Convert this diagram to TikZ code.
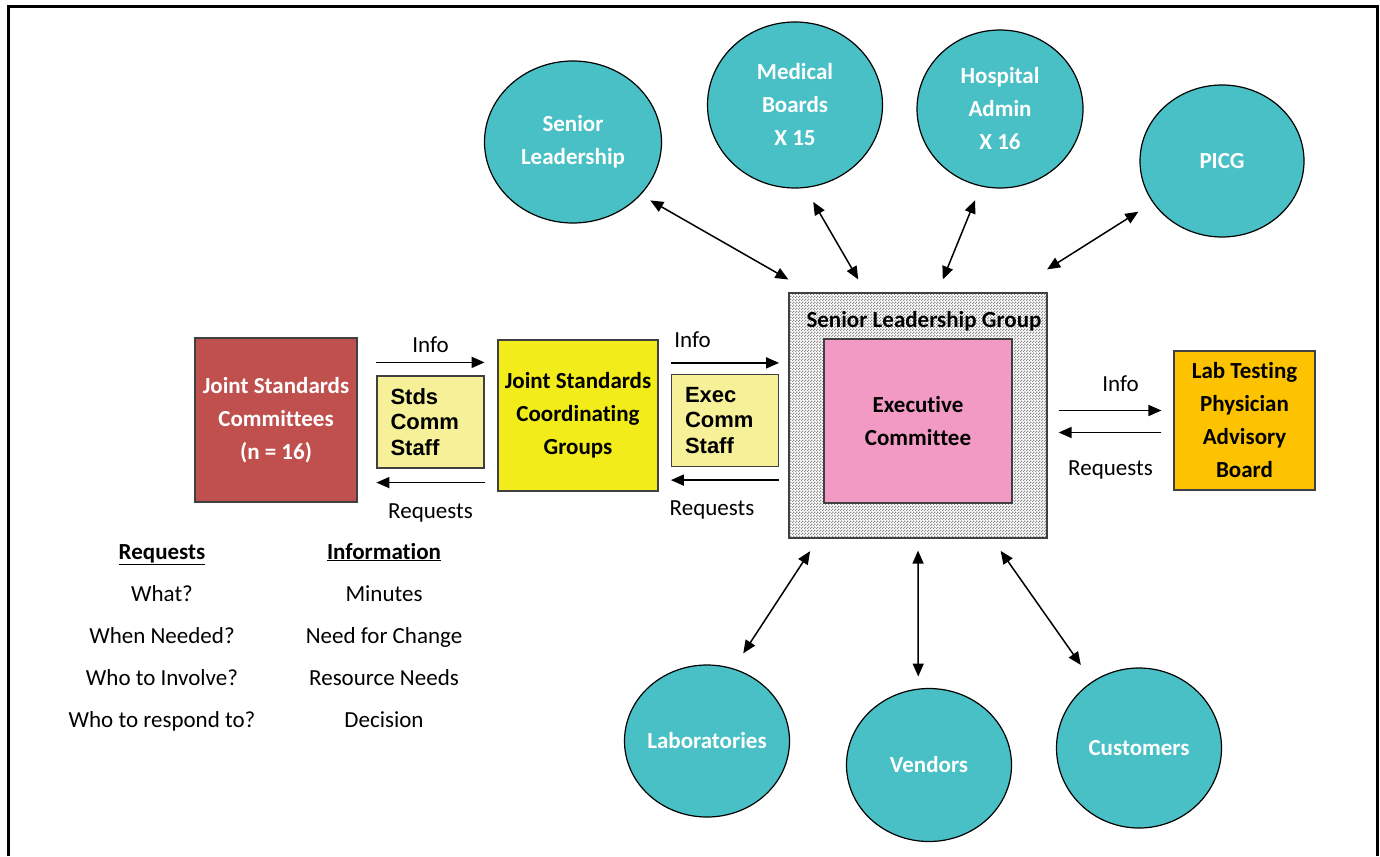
\documentclass[tikz,border=0pt]{standalone}
\usepackage{fontspec}
\setmainfont{Carlito}[Ligatures=NoCommon]
\newfontfamily\stafffont{Liberation Sans}
\usetikzlibrary{arrows.meta}
\usetikzlibrary{shapes.geometric}
\usetikzlibrary{patterns}

\definecolor{bubblecyan}{RGB}{72,192,197}
\definecolor{jscred}{RGB}{192,80,77}
\definecolor{jscgyellow}{RGB}{242,236,26}
\definecolor{staffyellow}{RGB}{246,241,152}
\definecolor{execpink}{RGB}{242,154,196}
\definecolor{boardgold}{RGB}{253,195,0}

\pgfdeclarepatternformonly{stipple}{\pgfqpoint{0pt}{0pt}}{\pgfqpoint{3pt}{3pt}}{\pgfqpoint{3pt}{3pt}}{
    \pgfpathrectangle{\pgfqpoint{0pt}{0pt}}{\pgfqpoint{1.5pt}{1.5pt}}
    \pgfpathrectangle{\pgfqpoint{1.5pt}{1.5pt}}{\pgfqpoint{1.5pt}{1.5pt}}
    \pgfusepath{fill}}

\begin{document}
\begin{tikzpicture}[x=1pt, y=-1pt,
    bubble/.style={ellipse, draw=black, line width=1.2pt, fill=bubblecyan, text=white,
        font=\bfseries\fontsize{23}{33}\selectfont, align=center, inner sep=-6pt},
    box/.style={rectangle, draw=black!75, line width=1.2pt,
        font=\bfseries\fontsize{23}{33}\selectfont, align=center, inner sep=0pt},
    staffbox/.style={box, fill=staffyellow, font=\stafffont\bfseries\fontsize{22}{25.5}\selectfont,
        align=left, text width=80pt, minimum width=107pt, minimum height=92pt},
    flow/.style={-{Triangle[length=13pt,width=11pt]}, line width=1.7pt},
    spoke/.style={{Triangle[length=13pt,width=11pt]}-{Triangle[length=13pt,width=11pt]}, line width=1.5pt},
    flowlabel/.style={font=\fontsize{23}{28}\selectfont, inner sep=0pt},
    legend/.style={anchor=base, font=\fontsize{23}{28}\selectfont, inner sep=0pt}]

    \useasboundingbox (0,0) rectangle (1380,856);
    \draw[line width=3pt] (8,856) -- (8,7) -- (1377,7) -- (1377,856);

    % outer groups
    \foreach \name/\x/\y/\w/\h/\txt in {
        seniorlead/573/142/177/162/{Senior\\Leadership},
        medboards/795/105/175/166/{Medical\\Boards\\X 15},
        hospadmin/1000/109/166/158/{Hospital\\Admin\\X 16},
        picg/1222/161/164/152/{PICG},
        labs/707/741/165/152/{Laboratories},
        vendors/929/765/165/153/{Vendors},
        customers/1139/748/165/160/{Customers}}{
        \node[bubble, minimum width=\w pt, minimum height=\h pt] (\name) at (\x,\y) {\txt};
    }

    % committee chain
    \node[box, fill=jscred, text=white, minimum width=162pt, minimum height=164pt] (jsc) at (276,420) {Joint Standards\\Committees\\(n = 16)};
    \node[staffbox] (stdsstaff) at (430.5,422) {Stds\\Comm\\Staff};
    \node[box, fill=jscgyellow, minimum width=160pt, minimum height=151pt] (jscg) at (578,415.5) {Joint Standards\\Coordinating\\Groups};
    \node[staffbox] (execstaff) at (725,420.5) {Exec\\Comm\\Staff};
    \node[box, preaction={fill=white}, pattern=stipple, pattern color=black!45, minimum width=258pt, minimum height=245pt] (slg) at (918,415.5) {};
    \node[anchor=base, font=\bfseries\fontsize{23}{28}\selectfont, inner sep=0pt] (slgtitle) at ([xshift=6pt,yshift=-35pt]slg.north) {Senior Leadership Group};
    \node[box, fill=execpink, minimum width=188pt, minimum height=164pt] (exec) at (918,421) {Executive\\Committee};
    \node[box, fill=boardgold, minimum width=141pt, minimum height=139pt] (ltpab) at (1244.5,420.5) {Lab Testing\\Physician\\Advisory\\Board};

    % info / requests
    \draw[flow] ([yshift=13pt]stdsstaff.north west) -- node[flowlabel, above=9pt] (info1) {Info} ([yshift=13pt]stdsstaff.north east);
    \draw[flow] ([yshift=-14pt]stdsstaff.south east) -- node[flowlabel, below=20pt] (req1) {Requests} ([yshift=-14pt]stdsstaff.south west);
    \draw[flow] ([yshift=11pt]execstaff.north west) -- node[flowlabel, above=14pt, pos=0.2] (info2) {Info} ([yshift=11pt]execstaff.north east);
    \draw[flow] ([yshift=-13pt]execstaff.south east) -- node[flowlabel, below=20pt, pos=0.62] (req2) {Requests} ([yshift=-13pt]execstaff.south west);
    \draw[flow, shorten <=11pt, shorten >=12pt] ([yshift=10pt]ltpab.west -| slg.east) -- node[flowlabel, above=18pt, pos=0.58] (info3) {Info} ([yshift=10pt]ltpab.west);
    \draw[flow, shorten <=12pt, shorten >=11pt] ([yshift=-12pt]ltpab.west) -- node[flowlabel, below=27pt] (req3) {Requests} ([yshift=-12pt]ltpab.west -| slg.east);

    % links to the group
    \foreach \from/\a/\b/\s/\e in {
        seniorlead/-38/131/11/26,
        medboards/-83/113/16/15,
        hospadmin/-104/81/15/14,
        picg/211/53/17/43,
        labs/70/-129/18/15,
        vendors/98/-90/12/12,
        customers/125/-59/20/15}{
        \draw[spoke, shorten <=\s pt, shorten >=\e pt] (\from.\a) -- (slg.\b);
    }

    % legend
    \node[legend] (reqhead) at (162,559) {\textbf{\underline{Requests}}};
    \node[legend] (infohead) at (384,559) {\textbf{\underline{Information}}};
    \foreach \req/\inf [count=\i] in {What?/Minutes,When Needed?/Need for Change,Who to Involve?/Resource Needs,Who to respond to?/Decision}{
        \node[legend] (req\i) at (162,559+42*\i) {\req};
        \node[legend] (inf\i) at (384,559+42*\i) {\inf};
    }
\end{tikzpicture}
\end{document}
